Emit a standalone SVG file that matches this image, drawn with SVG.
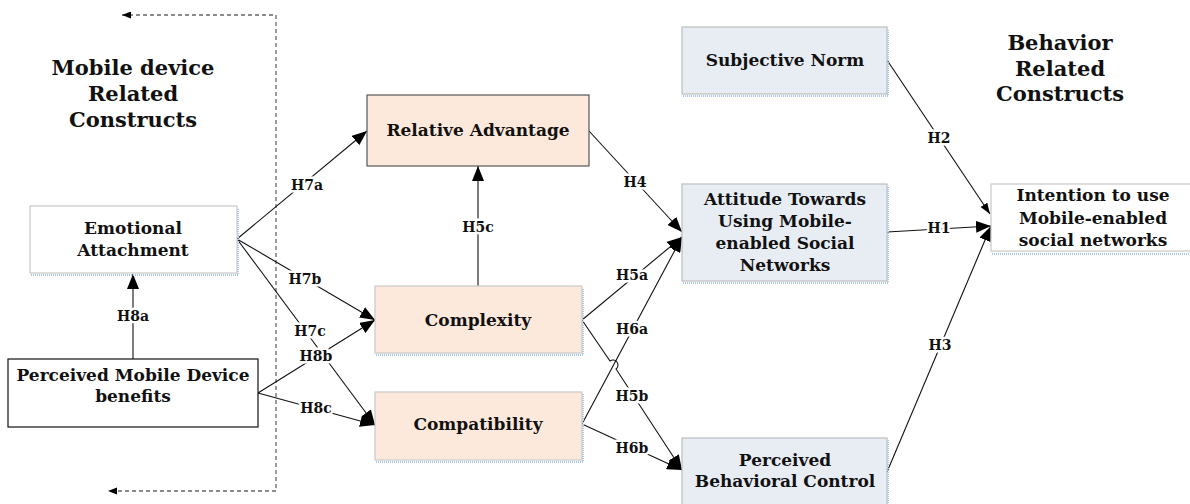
<svg xmlns="http://www.w3.org/2000/svg" width="1190" height="504" viewBox="0 0 1190 504">
<style>
text{font-family:"DejaVu Serif","Liberation Serif",serif;font-weight:bold;fill:#111;text-anchor:middle;dominant-baseline:central}
.t{font-size:17px}
.h{font-size:21px}
.l{font-size:14px;stroke:#fff;stroke-width:5px;paint-order:stroke;stroke-linejoin:round}
.peach{fill:#fde9db;stroke:#c8c8c8;stroke-width:1.2}
.blue{fill:#e8edf4;stroke:#bdbdbd;stroke-width:1.2}
.white{fill:#fff;stroke:#c8c8c8;stroke-width:1.2}
.sh{fill:none;stroke:#a9c8ea;stroke-width:2;stroke-dasharray:1 1}
.c{fill:none;stroke:#111;stroke-width:1.1}
.d{fill:none;stroke:#666;stroke-width:1.3;stroke-dasharray:4 3}
</style>
<defs>
<marker id="a" markerUnits="userSpaceOnUse" markerWidth="16" markerHeight="12" refX="15" refY="6" orient="auto"><path d="M0,0 L15,6 L0,12 z" fill="#000"/></marker>
<marker id="s" markerUnits="userSpaceOnUse" markerWidth="12" markerHeight="10" refX="11" refY="4" orient="auto"><path d="M0,0 L11,4 L0,8 z" fill="#000"/></marker>
<marker id="ds" markerUnits="userSpaceOnUse" markerWidth="10" markerHeight="8" refX="0" refY="3.5" orient="auto"><path d="M9,0 L0,3.5 L9,7 z" fill="#000"/></marker>
</defs>

<g id="headers">
<text class="h" x="133" y="67">Mobile device</text>
<text class="h" x="133" y="93">Related</text>
<text class="h" x="133" y="119">Constructs</text>
<text class="h" x="1060" y="42">Behavior</text>
<text class="h" x="1060" y="68">Related</text>
<text class="h" x="1060" y="93">Constructs</text>
</g>

<g id="connectors">
<path class="d" d="M122,15 H276 V491 H110" marker-start="url(#ds)"/>
<path d="M108,491 l9,-3.5 v7 z" fill="#000"/>
<path class="c" d="M133,359 V274" marker-end="url(#a)"/>
<path class="c" d="M237,239 L367,131" marker-end="url(#a)"/>
<path class="c" d="M237,239 L375,320" marker-end="url(#a)"/>
<path class="c" d="M237,239 L375,425" marker-end="url(#a)"/>
<path class="c" d="M258,393 L375,320" marker-end="url(#a)"/>
<path class="c" d="M258,393 L375,425" marker-end="url(#a)"/>
<path class="c" d="M478,286 V166" marker-end="url(#a)"/>
<path class="c" d="M589,131 L682,232" marker-end="url(#a)"/>
<path class="c" d="M582,320 L682,237" marker-end="url(#a)"/>
<path class="c" d="M582,424 L682,237" marker-end="url(#a)"/>
<path class="c" d="M582,320 L610,361 A4,4 0 0 1 616,369 L682,470" marker-end="url(#a)"/>
<path class="c" d="M582,424 L682,470" marker-end="url(#a)"/>
<path class="c" d="M887,60 L990,214" marker-end="url(#s)"/>
<path class="c" d="M887,232 L991,226" marker-end="url(#a)"/>
<path class="c" d="M887,472 L991,226" marker-end="url(#a)"/>
<text class="l" x="133" y="316">H8a</text>
<text class="l" x="307" y="185">H7a</text>
<text class="l" x="305" y="279">H7b</text>
<text class="l" x="310" y="331">H7c</text>
<text class="l" x="316" y="356">H8b</text>
<text class="l" x="316" y="408">H8c</text>
<text class="l" x="478" y="227">H5c</text>
<text class="l" x="635" y="182">H4</text>
<text class="l" x="632" y="275">H5a</text>
<text class="l" x="632" y="329">H6a</text>
<text class="l" x="632" y="396">H5b</text>
<text class="l" x="632" y="448">H6b</text>
<text class="l" x="939" y="138">H2</text>
<text class="l" x="939" y="228">H1</text>
<text class="l" x="940" y="345">H3</text>
</g>

<g id="emotional-attachment">
<rect class="white" x="30" y="206" width="207" height="67"/>
<path class="sh" d="M31,275 H238 V208"/>
<text class="t" x="133" y="228">Emotional</text>
<text class="t" x="133" y="250">Attachment</text>
</g>

<g id="perceived-mobile-device-benefits">
<rect x="8" y="359" width="250" height="68" fill="#fff" stroke="#111" stroke-width="1.2"/>
<text class="t" x="133" y="375">Perceived Mobile Device</text>
<text class="t" x="133" y="396">benefits</text>
</g>

<g id="relative-advantage">
<rect x="367" y="95" width="222" height="71" fill="#fde9db" stroke="#555" stroke-width="1.2"/>
<text class="t" x="478" y="130">Relative Advantage</text>
</g>

<g id="complexity">
<rect class="peach" x="375" y="286" width="207" height="67"/>
<path class="sh" d="M376,355 H583 V288"/>
<text class="t" x="478" y="320">Complexity</text>
</g>

<g id="compatibility">
<rect class="peach" x="375" y="392" width="207" height="68"/>
<path class="sh" d="M376,462 H583 V394"/>
<text class="t" x="478" y="424">Compatibility</text>
</g>

<g id="subjective-norm">
<rect class="blue" x="682" y="27" width="205" height="67"/>
<path class="sh" d="M683,96 H888 V29"/>
<text class="t" x="785" y="60">Subjective Norm</text>
</g>

<g id="attitude">
<rect class="blue" x="682" y="184" width="205" height="97"/>
<path class="sh" d="M683,283 H888 V186"/>
<text class="t" x="785" y="199">Attitude Towards</text>
<text class="t" x="785" y="221">Using Mobile-</text>
<text class="t" x="785" y="243">enabled Social</text>
<text class="t" x="785" y="265">Networks</text>
</g>

<g id="perceived-behavioral-control">
<rect class="blue" x="682" y="438" width="205" height="80"/>
<path class="sh" d="M888,440 V504"/>
<text class="t" x="785" y="460">Perceived</text>
<text class="t" x="785" y="481">Behavioral Control</text>
</g>

<g id="intention">
<rect class="white" x="991" y="184" width="210" height="67"/>
<path class="sh" d="M992,254 H1190"/>
<text class="t" x="1093" y="195">Intention to use</text>
<text class="t" x="1093" y="218">Mobile-enabled</text>
<text class="t" x="1093" y="240">social networks</text>
</g>
</svg>
